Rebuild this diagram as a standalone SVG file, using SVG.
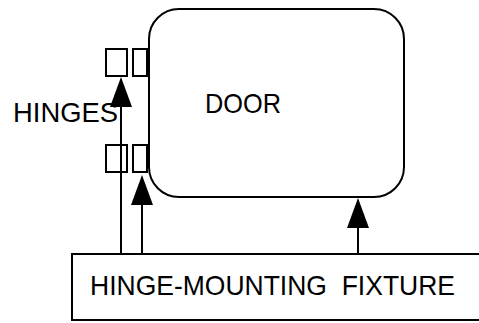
<svg xmlns="http://www.w3.org/2000/svg" width="479" height="323" viewBox="0 0 479 323">
  <style>
    .shape { fill: #ffffff; stroke: #000000; stroke-width: 2; }
    .conn { fill: none; stroke: #000000; stroke-width: 2; }
    .label { font-family: "Liberation Sans", Arial, sans-serif; font-size: 28px; fill: #000000; white-space: pre; }
  </style>
  <defs>
    <!-- filled arrowhead; line ends 3px short of the tip -->
    <marker id="arrow" markerUnits="userSpaceOnUse" markerWidth="30" markerHeight="22"
            viewBox="0 0 30 22" refX="27" refY="11" orient="auto">
      <path d="M0,0 L30,11 L0,22 Z" fill="#000000"/>
    </marker>
  </defs>
  <rect width="479" height="323" fill="#ffffff"/>

  <g id="door">
    <rect class="shape" x="149" y="9" width="255" height="188" rx="30" ry="30"/>
    <text class="label" x="205" y="113" textLength="76" lengthAdjust="spacingAndGlyphs">DOOR</text>
  </g>

  <g id="hinges">
    <rect class="shape" x="106" y="49" width="21" height="27"/>
    <rect class="shape" x="133" y="49" width="14" height="27"/>
    <rect class="shape" x="106" y="145" width="21" height="27"/>
    <rect class="shape" x="133" y="145" width="14" height="27"/>
    <text class="label" x="13" y="122" textLength="105" lengthAdjust="spacingAndGlyphs">HINGES</text>
  </g>

  <g id="fixture">
    <rect class="shape" x="72" y="254" width="420" height="66"/>
    <text class="label" x="90" y="295" textLength="365" lengthAdjust="spacingAndGlyphs">HINGE-MOUNTING  FIXTURE</text>
  </g>

  <g id="connectors">
    <line class="conn" x1="121" y1="253" x2="121" y2="80" marker-end="url(#arrow)"/>
    <line class="conn" x1="142" y1="253" x2="142" y2="178" marker-end="url(#arrow)"/>
    <line class="conn" x1="358" y1="253" x2="358" y2="201" marker-end="url(#arrow)"/>
  </g>
</svg>
